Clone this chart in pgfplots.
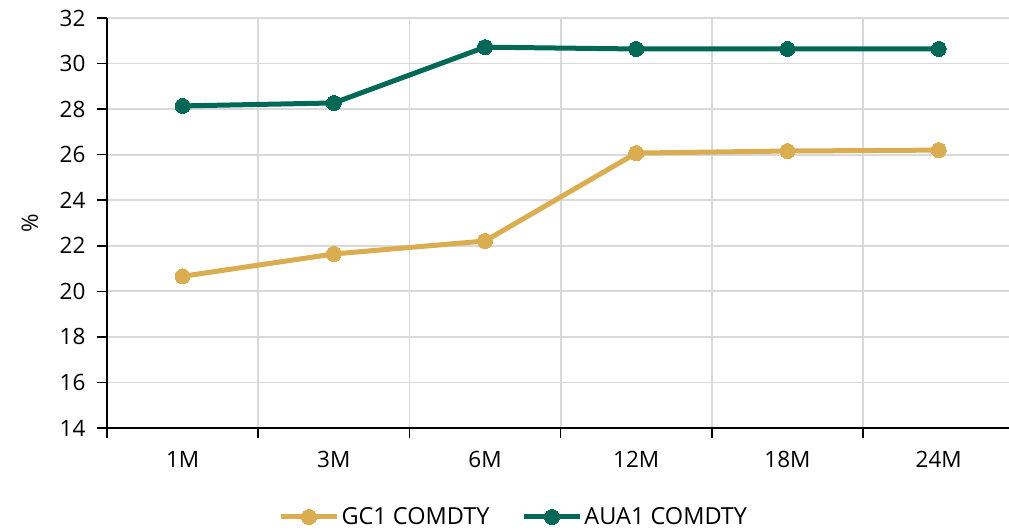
\documentclass[border=0pt]{standalone}
\usepackage{pgfplots}
\pgfplotsset{compat=1.18}
\usepackage{fontspec}
\setmainfont{Open Sans}
\definecolor{gold}{HTML}{D9AD50}
\definecolor{teal}{HTML}{006857}
\definecolor{gridc}{HTML}{D9D9D9}
\begin{document}
\begin{tikzpicture}
\begin{axis}[
  scale only axis,
  width=902pt, height=410pt,
  xmin=-0.5, xmax=5.465,
  ymin=14, ymax=32,
  ytick={14,16,...,32},
  axis x line*=bottom, axis y line*=left,
  axis line style={-, black, line width=1.5pt},
  xtick={-0.5,0.5,1.5,2.5,3.5,4.5},
  xticklabels={},
  extra x ticks={0,1,2,3,4,5},
  extra x tick labels={1M,3M,6M,12M,18M,24M},
  extra x tick style={major tick length=0pt, grid=none},
  xmajorgrids, ymajorgrids,
  major grid style={gridc, line width=1.8pt},
  tick align=outside,
  major tick length=10pt,
  tick style={black, line width=1.5pt},
  ticklabel style={font=\fontsize{22.5}{27}\selectfont},
  /pgf/number format/assume math mode=true,
  yticklabel style={xshift=-8pt},
  xticklabel style={yshift=-20pt},
  ylabel={\%},
  ylabel style={at={(axis description cs:-0.0854,0.5)}, anchor=center, font=\fontsize{22.5}{27}\selectfont},
  legend style={at={(axis description cs:0.451,-0.217)}, anchor=center, draw=none, legend columns=2,
    font=\fontsize{23.5}{28}\selectfont, /tikz/every even column/.append style={column sep=30pt}},
  legend image code/.code={\draw[mark repeat=2, mark phase=2, #1] plot coordinates {(0pt,0pt) (28pt,0pt) (56pt,0pt)};},
  every axis plot/.append style={line width=5pt, mark=*, mark size=7.5pt},
  clip=false,
]
\addplot[color=gold, mark options={fill=gold, draw=gold, line width=0pt}] coordinates {
(0,20.66) (1,21.64) (2,22.21) (3,26.07) (4,26.16) (5,26.20)};
\addlegendentry{GC1 COMDTY}
\addplot[color=teal, mark options={fill=teal, draw=teal, line width=0pt}] coordinates {
(0,28.14) (1,28.27) (2,30.72) (3,30.64) (4,30.64) (5,30.64)};
\addlegendentry{AUA1 COMDTY}
\end{axis}
\pgfresetboundingbox
\path (-107pt,-103pt) rectangle ++(1009pt,531pt);
\end{tikzpicture}
\end{document}
